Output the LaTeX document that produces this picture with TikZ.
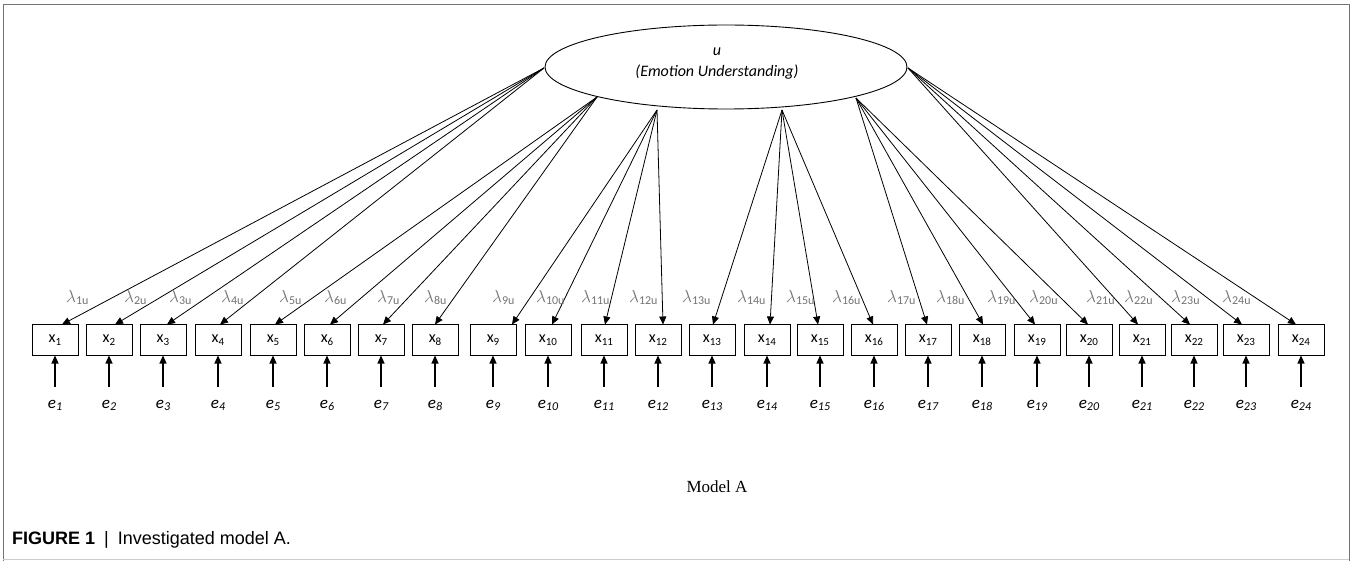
\documentclass[tikz,border=0pt]{standalone}
\usepackage{fontspec}
\setmainfont{Carlito}
\newfontfamily\capfont{Liberation Sans}
\newfontfamily\modelfont{Liberation Serif}
\usetikzlibrary{arrows.meta,shapes.geometric}
\newcommand\lowsub[2][11]{\raisebox{-0.35ex}{\fontsize{#1}{#1}\selectfont #2}}
\begin{document}
\begin{tikzpicture}[x=1pt,y=-1pt,
  obs/.style={draw, line width=1pt, minimum width=46pt, minimum height=30pt, inner sep=0pt, font=\fontsize{16}{16}\selectfont},
  load/.style={-{Triangle[length=8pt,width=7pt]}, line width=0.8pt},
  err/.style={-{Triangle[length=8pt,width=7pt]}, line width=1.1pt},
  lam/.style={anchor=base west, inner sep=0pt, text=black!55, font=\fontsize{17}{17}\selectfont},
  elab/.style={anchor=base, inner sep=0pt, font=\itshape\fontsize{17}{17}\selectfont},
]
\useasboundingbox (0,0) rectangle (1352,561);
\draw[black!55, line width=1pt] (3,561) -- (3,5) -- (1349,5) -- (1349,561);
\draw[black!20, line width=1pt] (3,559) -- (1349,559);
\node[ellipse, draw, line width=0.9pt, minimum width=362pt, minimum height=84pt, inner sep=0pt] (u) at (726,67) {};
\node[anchor=base, inner sep=0pt, font=\itshape\fontsize{16}{16}\selectfont] (ulab) at (717,56) {u};
\node[anchor=base, inner sep=0pt, font=\itshape\fontsize{16}{16}\selectfont] (ulab2) at (717,77) {(Emotion Understanding)};
\coordinate (g1) at (544,68);
\coordinate (g2) at (597,97);
\coordinate (g3) at (657,110);
\coordinate (g4) at (782,110);
\coordinate (g5) at (856,98);
\coordinate (g6) at (908,68);
\foreach \i/\cx in {1/55,2/109,3/163,4/218,5/273,6/327,7/381,8/435,9/493,10/548,11/604,12/658,13/712,14/767,15/820,16/874,17/928,18/982,19/1037,20/1089,21/1142,22/1194,23/1246,24/1301}{
  \node[obs] (x\i) at (\cx,340) {x\lowsub{\i}};
  \node[elab] (e\i) at (\cx,408) {e\lowsub[12]{\i}};
  \draw[err] ([yshift=13pt]e\i.north) -- (x\i.south);
}
\foreach \i/\g/\dx in {1/g1/7,2/g1/6,3/g1/4,4/g1/2,5/g2/2,6/g2/3,7/g2/2,8/g2/0,9/g3/19,10/g3/4,11/g3/1,12/g3/5,13/g4/1,14/g4/3,15/g4/-2,16/g4/-1,17/g5/-1,18/g5/1,19/g5/-2,20/g5/-1,21/g6/-4,22/g6/-4,23/g6/-4,24/g6/-5}{
  \draw[load] (\g) -- ([xshift=\dx pt]x\i.north);
}
\foreach \i/\lx in {1/66,2/124,3/169,4/221,5/279,6/324,7/377,8/424,9/492,10/536,11/581,12/629,13/682,14/737,15/786,16/832,17/887,18/936,19/987,20/1029,21/1086,22/1124,23/1171,24/1222}{
  \node[lam] (l\i) at (\lx,302) {$\lambda$\lowsub[12]{\i u}};
}
\node[anchor=base, inner sep=0pt, font=\modelfont\fontsize{17}{17}\selectfont] (model) at (717,492) {Model A};
\node[anchor=base west, inner sep=0pt, font=\capfont\fontsize{18}{18}\selectfont] (cap) at (12,544) {\textbf{FIGURE 1}\enspace\textbar\enspace Investigated model A.};
\end{tikzpicture}
\end{document}
